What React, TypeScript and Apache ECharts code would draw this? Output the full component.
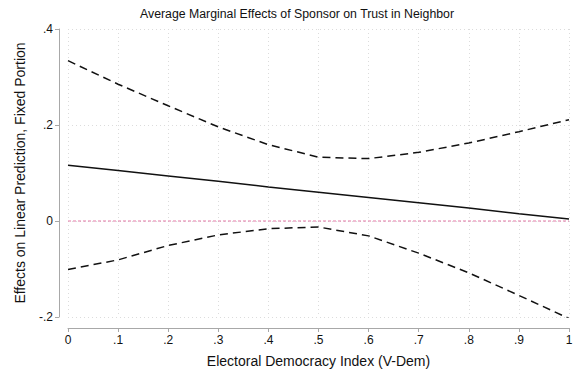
import React, { useEffect, useRef } from "react";
import * as echarts from "echarts";

const xValues = [0, 0.1, 0.2, 0.3, 0.4, 0.5, 0.6, 0.7, 0.8, 0.9, 1];
const estimate = [0.116, 0.105, 0.094, 0.083, 0.071, 0.06, 0.049, 0.038, 0.027, 0.015, 0.004];
const upperCI = [0.334, 0.285, 0.24, 0.196, 0.159, 0.133, 0.13, 0.143, 0.1625, 0.186, 0.211];
const lowerCI = [-0.101, -0.081, -0.051, -0.029, -0.016, -0.0125, -0.031, -0.067, -0.108, -0.155, -0.203];
const referenceY = 0;

const titleText = "Average Marginal Effects of Sponsor on Trust in Neighbor";
const xTitle = "Electoral Democracy Index (V-Dem)";
const yTitle = "Effects on Linear Prediction, Fixed Portion";

const fmt = (v: number) => {
  const r = Math.round(v * 10) / 10;
  let s = String(r);
  s = s.replace(/^0\./, ".").replace(/^-0\./, "-.");
  return s;
};

const pairs = (ys: number[]) => xValues.map((x, i) => [x, ys[i]]);

export default function App() {
  const ref = useRef<HTMLDivElement>(null);
  useEffect(() => {
    if (!ref.current) return;
    const chart = echarts.init(ref.current, null, { renderer: "svg" });
    const font = "'Liberation Sans', Arial, Helvetica, sans-serif";
    const axisColor = "#a8a8a8";
    chart.setOption({
      animation: false,
      backgroundColor: "#ffffff",
      textStyle: { fontFamily: font },
      title: {
        text: titleText,
        left: 292,
        top: 3,
        textAlign: "center",
        textStyle: { fontSize: 12.3, fontWeight: "normal", color: "#111", fontFamily: font },
      },
      grid: { left: 68, right: 12, top: 29, bottom: 56 },
      xAxis: {
        type: "value",
        min: 0,
        max: 1,
        interval: 0.1,
        offset: 11,
        name: xTitle,
        nameLocation: "middle",
        nameGap: 26,
        nameTextStyle: { fontSize: 14, color: "#111", fontFamily: font },
        axisLine: { show: true, onZero: false, lineStyle: { color: axisColor, width: 1 } },
        axisTick: { show: true, length: 4, lineStyle: { color: axisColor } },
        axisLabel: { formatter: fmt, fontSize: 12, color: "#111", margin: 6, fontFamily: font },
        splitLine: { show: true, lineStyle: { color: "#dcdcdc", type: [1, 3], width: 1 } },
      },
      yAxis: {
        type: "value",
        min: -0.2,
        max: 0.4,
        interval: 0.2,
        offset: 9,
        name: yTitle,
        nameLocation: "middle",
        nameGap: 32,
        nameTextStyle: { fontSize: 14, color: "#111", fontFamily: font },
        axisLine: { show: true, onZero: false, lineStyle: { color: axisColor, width: 1 } },
        axisTick: { show: true, length: 4, lineStyle: { color: axisColor } },
        axisLabel: { formatter: fmt, fontSize: 12, color: "#111", margin: 6, fontFamily: font },
        splitLine: { show: true, lineStyle: { color: "#dcdcdc", type: [1, 3], width: 1 } },
      },
      series: [
        {
          type: "line",
          data: [
            [xValues[0], referenceY],
            [xValues[xValues.length - 1], referenceY],
          ],
          symbol: "none",
          silent: true,
          z: 2,
          lineStyle: { color: "#e27aa6", type: [3, 2], width: 1 },
        },
        {
          type: "line",
          data: pairs(estimate),
          symbol: "none",
          lineStyle: { color: "#111", width: 1.5, type: "solid" },
          z: 3,
        },
        {
          type: "line",
          data: pairs(upperCI),
          symbol: "none",
          lineStyle: { color: "#111", width: 1.5, type: [8, 5] },
          z: 3,
        },
        {
          type: "line",
          data: pairs(lowerCI),
          symbol: "none",
          lineStyle: { color: "#111", width: 1.5, type: [8, 5] },
          z: 3,
        },
      ],
    });
    return () => chart.dispose();
  }, []);
  return (
    <div
      ref={ref}
      style={{ position: "fixed", left: 0, top: 0, width: 581, height: 373, background: "#fff" }}
    />
  );
}
